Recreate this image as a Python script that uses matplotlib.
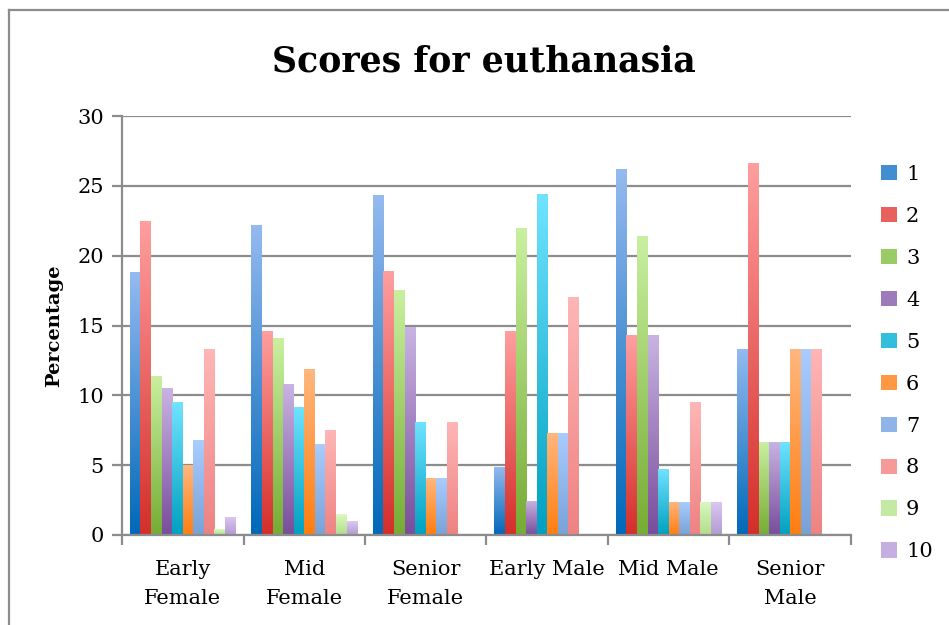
import numpy as np
import matplotlib
matplotlib.use("Agg")
import matplotlib.pyplot as plt
from matplotlib.colors import LinearSegmentedColormap, to_rgb
from matplotlib.patches import Patch
from matplotlib.lines import Line2D

categories = ["Early\nFemale", "Mid\nFemale", "Senior\nFemale", "Early Male", "Mid Male", "Senior\nMale"]
series_names = ["1", "2", "3", "4", "5", "6", "7", "8", "9", "10"]

s1 = [18.8, 22.2, 24.32, 4.88, 26.19, 13.33]
s2 = [22.5, 14.6, 18.92, 14.63, 14.29, 26.67]
s3 = [11.4, 14.1, 17.57, 21.95, 21.43, 6.67]
s4 = [10.5, 10.8, 14.86, 2.44, 14.29, 6.67]
s5 = [9.5, 9.2, 8.11, 24.39, 4.76, 6.67]
s6 = [5.0, 11.9, 4.05, 7.32, 2.38, 13.33]
s7 = [6.8, 6.5, 4.05, 7.32, 2.38, 13.33]
s8 = [13.3, 7.5, 8.11, 17.07, 9.52, 13.33]
s9 = [0.4, 1.5, 0.0, 0.0, 2.38, 0.0]
s10 = [1.3, 1.0, 0.0, 0.0, 2.38, 0.0]
series = [s1, s2, s3, s4, s5, s6, s7, s8, s9, s10]

colors = [
    ("#0068B8", "#95BAF0"),
    ("#D42E2A", "#FF9F9F"),
    ("#75AC34", "#C9F0A0"),
    ("#784D9B", "#C9B3E3"),
    ("#00A0C0", "#70E3FF"),
    ("#FF7E10", "#FFB77F"),
    ("#78A2D6", "#AACCFF"),
    ("#EE8282", "#FFB6B6"),
    ("#B3DC8A", "#D9F9C0"),
    ("#B29AD2", "#DCC8F2"),
]

serif = ["DejaVu Serif"]
plt.rcParams["font.family"] = serif

W, H = 949, 625
fig = plt.figure(figsize=(W / 100, H / 100), dpi=100)
ax = fig.add_axes([122 / W, 1 - 535 / H, (851 - 122) / W, (535 - 116) / H])

# frame around chart
grey = "#8C8C8C"
fig.add_artist(Line2D([9 / W, 9 / W], [0, 1 - 10 / H], transform=fig.transFigure, color=grey, lw=1.6))
fig.add_artist(Line2D([9 / W, 1], [1 - 10 / H, 1 - 10 / H], transform=fig.transFigure, color=grey, lw=1.6))

n = len(series)
gap = 1.5
bw = 1.0 / (n + gap)
x = np.arange(len(categories))
grad = np.linspace(0, 1, 256).reshape(-1, 1)
for i, vals in enumerate(series):
    offs = x - 0.5 + (gap / 2) * bw + i * bw
    bars = ax.bar(offs, vals, width=bw, align="edge", color=colors[i][0], lw=0, zorder=3)
    cmap = LinearSegmentedColormap.from_list("c%d" % i, [colors[i][0], colors[i][1]])
    for b in bars:
        h = b.get_height()
        if h <= 0:
            continue
        im = ax.imshow(grad, cmap=cmap, origin="lower", aspect="auto",
                       extent=[b.get_x(), b.get_x() + b.get_width(), 0, h],
                       zorder=4, interpolation="bicubic")
        im.set_clip_path(b)

ax.set_xlim(-0.5, len(categories) - 0.5)
ax.set_ylim(0, 30)
ax.set_yticks(np.arange(0, 31, 5))
ax.yaxis.grid(True, color=grey, lw=1.6, zorder=0)
ax.set_axisbelow(True)
for s in ["top", "right"]:
    ax.spines[s].set_visible(False)
for s in ["left", "bottom"]:
    ax.spines[s].set_color(grey)
    ax.spines[s].set_linewidth(1.6)
    ax.spines[s].set_zorder(5)

ax.set_xticks(np.arange(-0.5, len(categories), 1.0))
ax.set_xticklabels([])
ax.set_xticks(x, minor=True)
ax.set_xticklabels(categories, minor=True, fontsize=15, linespacing=1.65)
ax.tick_params(axis="x", which="major", length=7, width=1.6, color=grey, direction="out")
ax.tick_params(axis="x", which="minor", length=0, pad=18)
ax.tick_params(axis="y", length=7, width=1.6, color=grey, labelsize=15, pad=6)

ax.set_ylabel("Percentage", fontsize=14, fontweight="bold", labelpad=10)
fig.text(484 / W, 1 - 62 / H, "Scores for euthanasia", ha="center", va="center",
         fontsize=25, fontweight="bold")


def mid(c1, c2, t=0.45):
    a, b = np.array(to_rgb(c1)), np.array(to_rgb(c2))
    return tuple(a + (b - a) * t)


handles = [Patch(facecolor=mid(*colors[i]), edgecolor="none") for i in range(n)]
leg = ax.legend(handles, series_names, loc="upper left", bbox_to_anchor=(881 / W, 1 - 165 / H),
                bbox_transform=fig.transFigure, frameon=False, fontsize=15,
                handlelength=0.75, handleheight=0.75, handletextpad=0.45, labelspacing=1.10,
                borderpad=0, borderaxespad=0)

fig.savefig("out.png", dpi=100)
